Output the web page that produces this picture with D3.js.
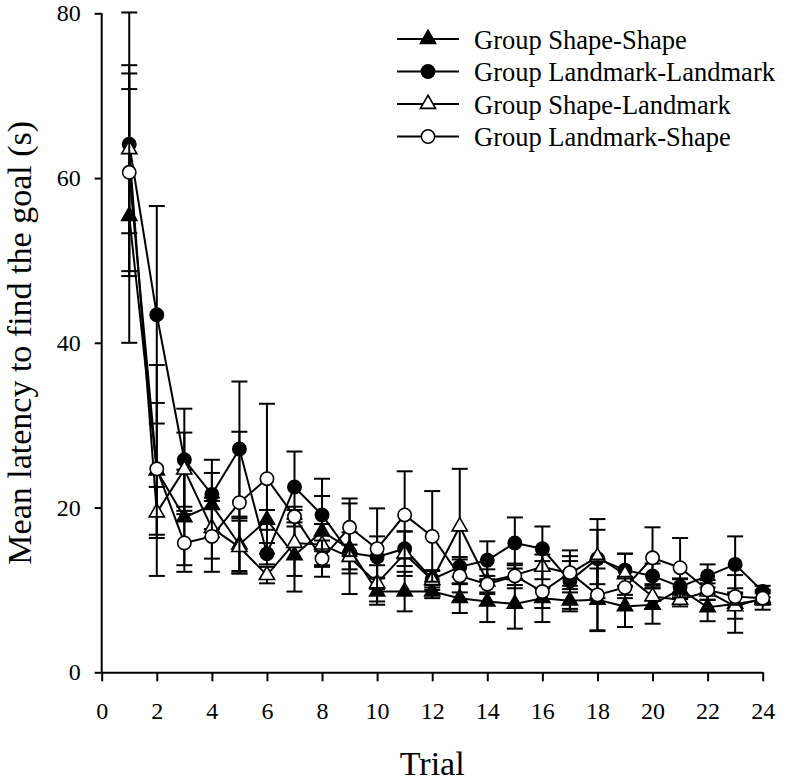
<!DOCTYPE html>
<html>
<head>
<meta charset="utf-8">
<script src="https://cdn.jsdelivr.net/npm/d3@7"></script>
<style>
  html, body { margin: 0; padding: 0; background: #fff; }
  svg { display: block; }
  text { font-family: "Liberation Serif", "Times New Roman", serif; fill: #000; }
</style>
</head>
<body>
<svg id="chart" width="788" height="781"></svg>
<script>
// ---- data ----
const trials = [1,2,3,4,5,6,7,8,9,10,11,12,13,14,15,16,17,18,19,20,21,22,23,24];

const shapeShape      = [55.4,24.5,18.8,20.3,15.5,18.5,14.2,17.1,15.0,9.8,9.8,9.8,9.0,8.6,8.3,9.0,8.7,8.8,8.0,8.2,10.1,7.9,8.3,8.8];
const shapeShapeSE    = [15.4,12.8,5.8,3.9,3.2,1.2,4.4,4.3,5.5,1.6,2.4,0.8,1.8,2.5,3.0,1.2,1.0,3.8,2.5,2.3,1.2,1.7,3.5,1.2];

const landLand        = [64.1,43.4,25.8,21.6,27.1,14.4,22.5,19.1,14.5,14.0,15.0,11.3,12.8,13.6,15.7,15.0,11.1,13.8,12.4,11.7,10.4,11.7,13.1,9.8];
const landLandSE      = [16.0,13.2,6.2,4.2,8.2,1.3,4.3,4.4,2.5,2.5,2.1,1.0,1.2,2.3,3.1,2.7,3.7,4.8,2.0,1.5,1.0,1.4,3.4,0.7];

const shapeLand       = [63.5,19.4,24.6,17.5,15.2,11.8,15.7,15.5,14.0,10.8,14.4,11.2,17.7,11.0,11.8,12.8,12.0,14.0,11.9,9.2,8.8,9.8,8.0,9.0];
const shapeLandSE     = [10.2,3.1,4.5,3.7,3.2,1.0,4.0,2.5,1.5,2.2,2.7,1.2,7.0,1.5,1.2,1.5,1.5,3.3,2.5,1.5,0.8,1.0,1.5,0.8];

const landShape       = [60.7,24.7,15.7,16.5,20.6,23.5,18.9,13.8,17.6,15.0,19.1,16.5,11.7,10.7,11.7,9.8,12.1,9.4,10.3,13.9,12.7,10.0,9.2,9.0];
const landShapeSE     = [12.0,8.0,3.5,4.3,8.6,9.1,1.2,2.2,3.5,4.9,5.3,5.5,2.0,1.0,1.5,3.7,2.0,4.3,1.3,3.7,3.6,1.2,1.0,0.6];

const seriesNames = ["Group Shape-Shape","Group Landmark-Landmark","Group Shape-Landmark","Group Landmark-Shape"];
const xTicks = [0,2,4,6,8,10,12,14,16,18,20,22,24];
const yTicks = [0,20,40,60,80];
const xTitle = "Trial";
const yTitle = "Mean latency to find the goal (s)";

// ---- build series ----
const series = [
  {name: seriesNames[0], mean: shapeShape, se: shapeShapeSE, shape: "triangle", fill: "#000"},
  {name: seriesNames[1], mean: landLand,   se: landLandSE,   shape: "circle",   fill: "#000"},
  {name: seriesNames[2], mean: shapeLand,  se: shapeLandSE,  shape: "triangle", fill: "#fff"},
  {name: seriesNames[3], mean: landShape,  se: landShapeSE,  shape: "circle",   fill: "#fff"}
];

const svg = d3.select("#chart");
const x = d3.scaleLinear().domain([0, 24]).range([101.7, 762.7]);
const y = d3.scaleLinear().domain([0, 80]).range([672.3, 13.3]);

function symbolFor(shape) {
  return shape === "circle"
    ? d3.symbol(d3.symbolCircle, 140)
    : d3.symbol(d3.symbolTriangle, 100);
}

// ---- axes ----
const yAxis = svg.append("g")
  .attr("transform", `translate(${x(0)},0)`)
  .call(d3.axisLeft(y).tickValues(yTicks).tickSize(7).tickSizeOuter(0).tickPadding(14));
const xAxis = svg.append("g")
  .attr("transform", `translate(0,${y(0)})`)
  .call(d3.axisBottom(x).tickValues(xTicks).tickSize(9).tickSizeOuter(0).tickPadding(21));
[xAxis, yAxis].forEach(g => {
  g.select(".domain").attr("stroke", "#000").attr("stroke-width", 2);
  g.selectAll(".tick line").attr("stroke", "#000").attr("stroke-width", 2);
  g.selectAll(".tick text").style("font-size", "24px").style("font-family", '"Liberation Serif", serif').attr("fill", "#000");
});
// extend y-axis domain down to meet x axis and left tick
yAxis.select(".domain").attr("d", `M0,${y(80)}V${y(0)}`);

// ---- titles ----
svg.append("text")
  .attr("x", (x(0) + x(24)) / 2)
  .attr("y", 775)
  .attr("text-anchor", "middle")
  .style("font-size", "34px")
  .text(xTitle);

svg.append("text")
  .attr("transform", `translate(31,${(y(0) + y(80)) / 2}) rotate(-90)`)
  .attr("text-anchor", "middle")
  .style("font-size", "34px")
  .text(yTitle);

// ---- series ----
const line = d3.line().x((d, i) => x(trials[i])).y(d => y(d));
const capHalf = 8;

series.forEach(s => {
  const g = svg.append("g");
  // error bars
  const eb = g.selectAll(".eb").data(s.mean.map((m, i) => ({t: trials[i], m, e: s.se[i]})))
    .enter().append("g").attr("stroke", "#000").attr("stroke-width", 2);
  eb.append("line")
    .attr("x1", d => x(d.t)).attr("x2", d => x(d.t))
    .attr("y1", d => y(d.m + d.e)).attr("y2", d => y(d.m - d.e));
  eb.append("line")
    .attr("x1", d => x(d.t) - capHalf).attr("x2", d => x(d.t) + capHalf)
    .attr("y1", d => y(d.m + d.e)).attr("y2", d => y(d.m + d.e));
  eb.append("line")
    .attr("x1", d => x(d.t) - capHalf).attr("x2", d => x(d.t) + capHalf)
    .attr("y1", d => y(d.m - d.e)).attr("y2", d => y(d.m - d.e));
  // line
  g.append("path").attr("d", line(s.mean)).attr("fill", "none").attr("stroke", "#000").attr("stroke-width", 2);
  // markers
  g.selectAll(".mk").data(s.mean).enter().append("path")
    .attr("d", symbolFor(s.shape))
    .attr("transform", (d, i) => `translate(${x(trials[i])},${y(d)})`)
    .attr("fill", s.fill).attr("stroke", "#000").attr("stroke-width", 1.6);
});

// ---- legend ----
const legendY = [39, 71.5, 104, 136.5];
series.forEach((s, i) => {
  const g = svg.append("g").attr("transform", `translate(0,${legendY[i]})`);
  g.append("line").attr("x1", 397).attr("x2", 459).attr("y1", 0).attr("y2", 0)
    .attr("stroke", "#000").attr("stroke-width", 2);
  g.append("path").attr("d", symbolFor(s.shape)).attr("transform", "translate(428,0)")
    .attr("fill", s.fill).attr("stroke", "#000").attr("stroke-width", 1.6);
  g.append("text").attr("x", 474).attr("y", 9.5).style("font-size", "26.5px").text(s.name);
});
</script>
</body>
</html>
